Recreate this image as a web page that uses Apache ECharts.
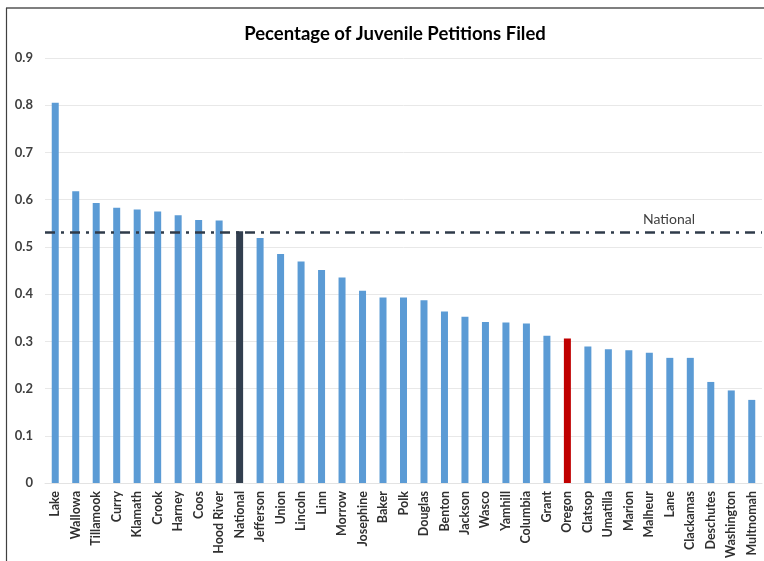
<!DOCTYPE html>
<html>
<head>
<meta charset="utf-8">
<script src="https://cdn.jsdelivr.net/npm/echarts@6/dist/echarts.min.js"></script>
<style>
  html, body { margin: 0; padding: 0; background: #ffffff; }
  #chart { width: 764px; height: 561px; }
</style>
</head>
<body>
<div id="chart"></div>
<script>
// Share of juvenile petitions filed, by Oregon county, with state and national figures
const categories = [
  'Lake', 'Wallowa', 'Tillamook', 'Curry', 'Klamath', 'Crook', 'Harney', 'Coos',
  'Hood River', 'National', 'Jefferson', 'Union', 'Lincoln', 'Linn', 'Morrow',
  'Josephine', 'Baker', 'Polk', 'Douglas', 'Benton', 'Jackson', 'Wasco', 'Yamhill',
  'Columbia', 'Grant', 'Oregon', 'Clatsop', 'Umatilla', 'Marion', 'Malheur', 'Lane',
  'Clackamas', 'Deschutes', 'Washington', 'Multnomah'
];
const values = [
  0.805, 0.618, 0.593, 0.583, 0.579, 0.575, 0.567, 0.557,
  0.556, 0.533, 0.519, 0.485, 0.469, 0.451, 0.435,
  0.407, 0.393, 0.393, 0.387, 0.363, 0.352, 0.341, 0.340,
  0.338, 0.312, 0.306, 0.289, 0.283, 0.281, 0.276, 0.265,
  0.265, 0.214, 0.196, 0.176
];
const nationalRate = 0.533;
const yTicks = { min: 0, max: 0.9, interval: 0.1 };

const BAR = '#5b9bd5';
const HIGHLIGHT = { 'National': '#323f4f', 'Oregon': '#c00000' };
const FONT = 'Lato, "Open Sans", sans-serif';

const chart = echarts.init(document.getElementById('chart'), null, { renderer: 'canvas' });

chart.setOption({
  backgroundColor: '#ffffff',
  animation: false,
  title: {
    text: 'Pecentage of Juvenile Petitions Filed',
    left: 390,
    top: 20,
    textAlign: 'center',
    textStyle: { fontFamily: FONT, fontSize: 18.5, fontWeight: 'bold', color: '#000000' }
  },
  graphic: [
    { type: 'line', shape: { x1: 6, y1: 8, x2: 764, y2: 8 },
      style: { stroke: '#7f7f7f', lineWidth: 2 }, silent: true },
    { type: 'line', shape: { x1: 6.5, y1: 8, x2: 6.5, y2: 561 },
      style: { stroke: '#404040', lineWidth: 1.2 }, silent: true }
  ],
  grid: { left: 45, right: 2, top: 58, bottom: 78, containLabel: false },
  xAxis: {
    type: 'category',
    data: categories,
    axisLine: { show: true, lineStyle: { color: '#e3e3e3', width: 1 } },
    axisTick: { show: false },
    axisLabel: {
      rotate: 90,
      interval: 0,
      margin: 8,
      fontFamily: FONT,
      fontSize: 12.5,
      fontWeight: 'bold',
      color: '#303030'
    }
  },
  yAxis: {
    type: 'value',
    min: yTicks.min,
    max: yTicks.max,
    interval: yTicks.interval,
    axisLine: { show: false },
    axisTick: { show: false },
    splitLine: { lineStyle: { color: '#e8e8e8', width: 1 } },
    axisLabel: {
      margin: 12,
      fontFamily: FONT,
      fontSize: 13,
      fontWeight: 'bold',
      color: '#404040',
      formatter: v => (Math.round(v * 10) / 10).toString()
    }
  },
  series: [{
    type: 'bar',
    barWidth: 7,
    data: values.map((v, i) => ({
      value: v,
      itemStyle: { color: HIGHLIGHT[categories[i]] || BAR }
    })),
    markLine: {
      silent: true,
      symbol: ['none', 'none'],
      lineStyle: { color: '#2f3b4a', width: 2.5, type: [10, 6, 3, 6] },
      label: {
        show: true,
        position: 'insideEndTop',
        formatter: 'National',
        distance: [67, 6],
        fontFamily: FONT,
        fontSize: 14,
        color: '#404040'
      },
      data: [{ yAxis: nationalRate }]
    }
  }]
});
</script>
</body>
</html>
